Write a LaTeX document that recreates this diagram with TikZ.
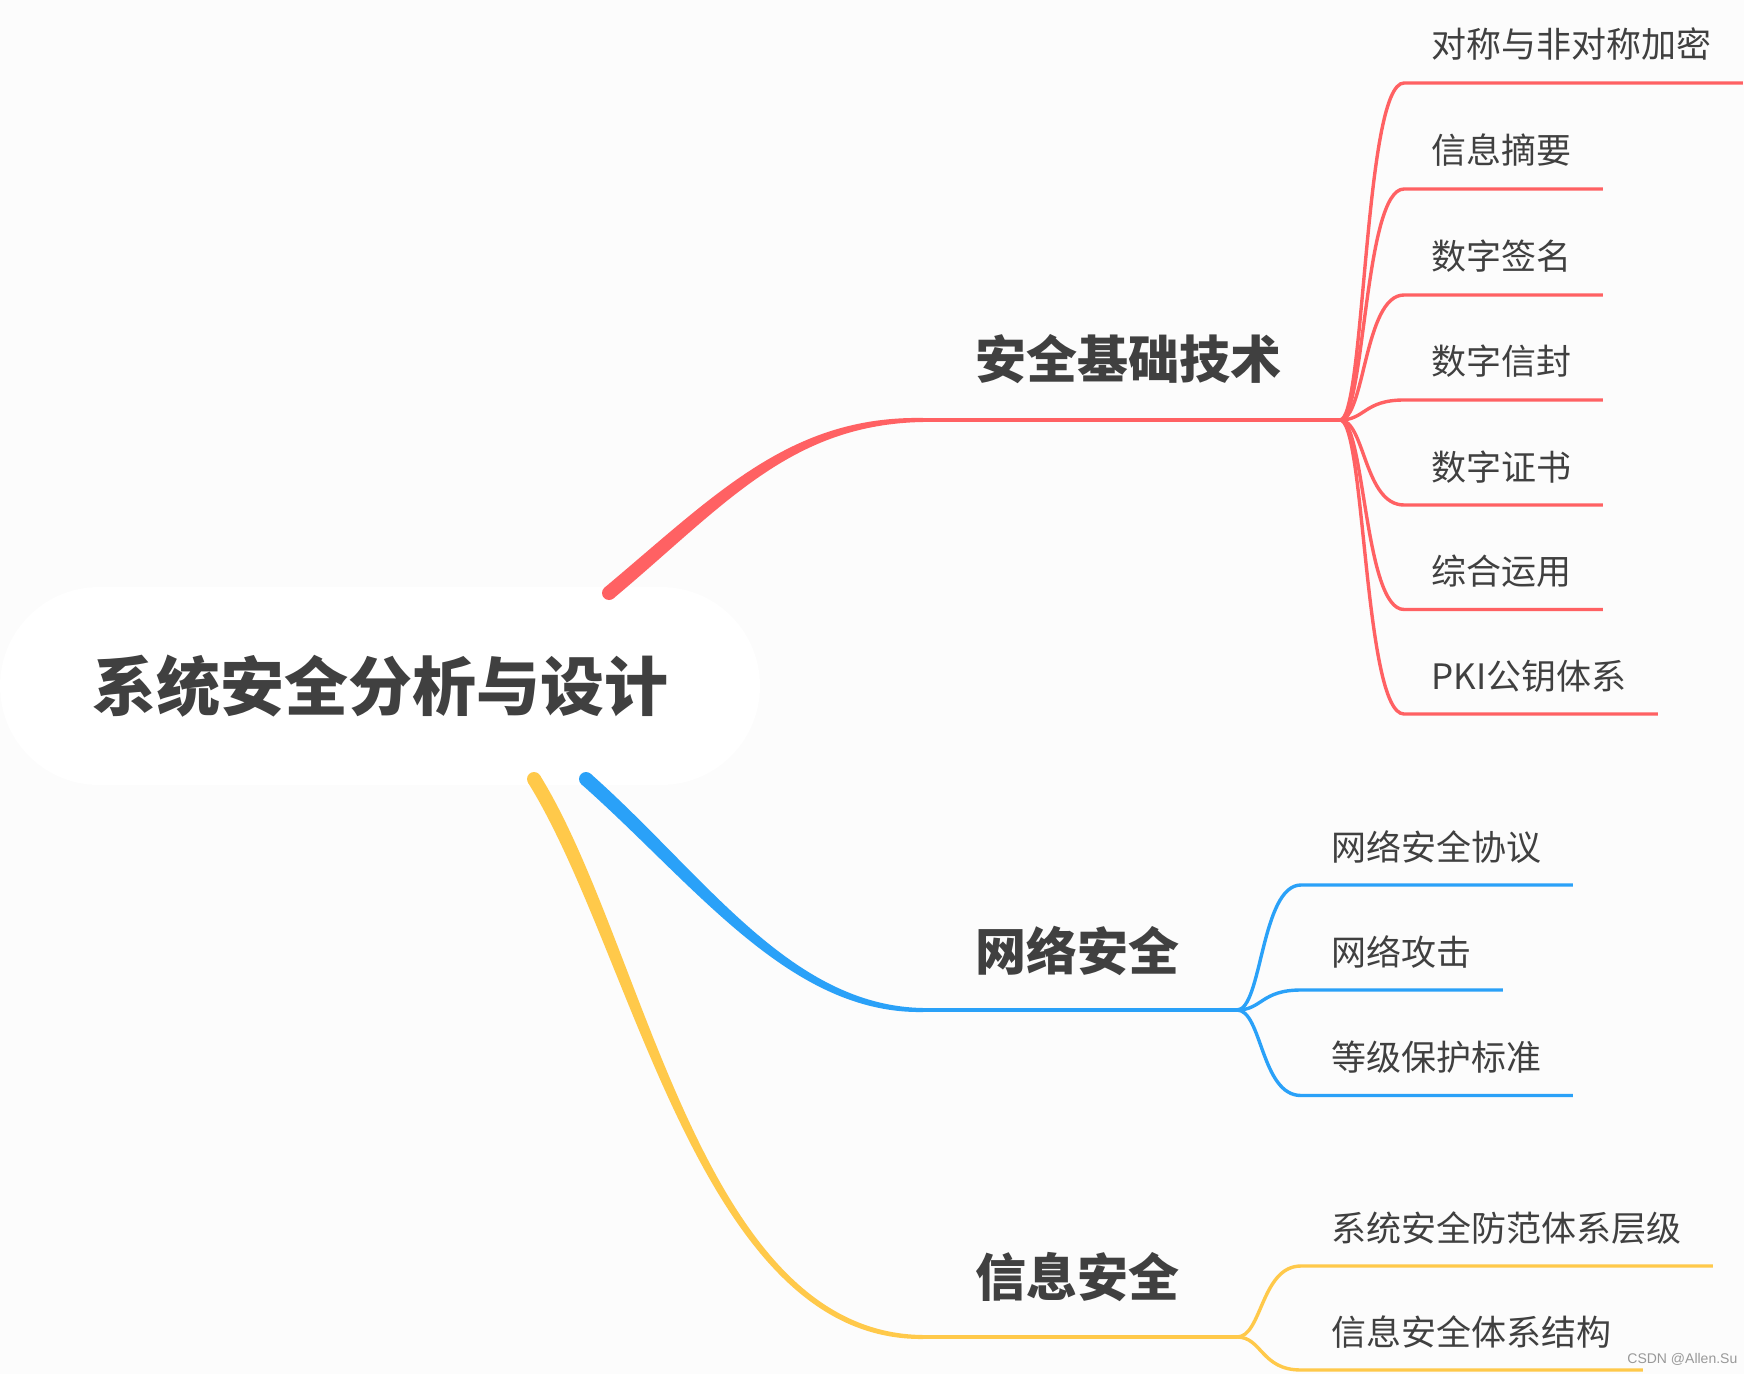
\documentclass[tikz,border=0pt]{standalone}
\usepackage{fontspec}
\setmainfont{Noto Sans CJK SC}
\newfontfamily\wmfont{Liberation Sans}
\usetikzlibrary{calc}
\definecolor{bgcol}{HTML}{FCFCFC}
\definecolor{txtcol}{HTML}{404040}
\definecolor{redbr}{HTML}{FF6163}
\definecolor{bluebr}{HTML}{2AA1F8}
\definecolor{yelbr}{HTML}{FFC94A}
\tikzset{
  rootbox/.style={rounded corners=49.5pt,fill=white,minimum width=380pt,minimum height=99pt,inner sep=0pt,font=\fontsize{32}{32}\selectfont\bfseries,text=txtcol},
  topic/.style={anchor=base west,inner sep=0pt,font=\fontsize{25.5}{25.5}\selectfont\bfseries,text=txtcol},
  leaf/.style={anchor=base west,inner sep=0pt,font=\fontsize{17.5}{17.5}\selectfont,text=txtcol},
  stem/.style={line width=2pt},
  twig/.style={line width=1.7pt},
  markbox/.style={anchor=west,inner sep=0pt,font=\wmfont\fontsize{7}{7}\selectfont,text=black!40}
}
% tapered main branch: colour, start, control 1, control 2, end
\newcommand\mainbranch[5]{%
  \fill[#1] (#2) circle (3.5pt);
  \fill[#1] ($(#2)!3.5pt!90:(#3)$) .. controls ($(#3)!3.5pt!-90:(#2)$) and ($(#4)!2.2pt!90:(#5)$) .. ($(#5)!1pt!-90:(#4)$)
    -- ($(#5)!1pt!90:(#4)$) .. controls ($(#4)!2.2pt!-90:(#5)$) and ($(#3)!3.5pt!90:(#2)$) .. ($(#2)!3.5pt!-90:(#3)$) -- cycle;
}

\begin{document}
\begin{tikzpicture}[x=0.5pt,y=-0.5pt]

  \fill[bgcol] (0,0) rectangle (1744,1374);
  \useasboundingbox (0,0) rectangle (1744,1374);

  % --- root ---
  \node[rootbox] (root) at (380,686) {系统安全分析与设计};
  \coordinate (redout) at (609,593);
  \coordinate (blueout) at (586,779);
  \coordinate (yelout) at (534,779);

  % --- Branche 1 : 安全基础技术 ---
  \coordinate (redbend) at (923,420);
  \coordinate (redjoint) at (1340,420);
  \mainbranch{redbr}{redout}{720,500}{790,420}{redbend}
  \draw[stem,redbr] (redbend) -- (redjoint);
  \node[topic] (basic) at (975,379) {安全基础技术};

  \node[leaf] (r1) at (1431,58) {对称与非对称加密};
  \node[leaf] (r2) at (1431,164) {信息摘要};
  \node[leaf] (r3) at (1431,270) {数字签名};
  \node[leaf] (r4) at (1431,375) {数字信封};
  \node[leaf] (r5) at (1431,480) {数字证书};
  \node[leaf] (r6) at (1431,584.5) {综合运用};
  \node[leaf] (r7) at (1431,689) {PKI公钥体系};
  \coordinate (r1s) at (1404,83);
  \coordinate (r2s) at (1404,189);
  \coordinate (r3s) at (1404,295);
  \coordinate (r4s) at (1404,400);
  \coordinate (r5s) at (1404,505);
  \coordinate (r6s) at (1404,609.5);
  \coordinate (r7s) at (1404,714);
  \draw[twig,redbr] (redjoint) .. controls +(25,0) and +(-40,0) .. (r1s) -- ([xshift=15.5pt]r1s -| r1.east);
  \draw[twig,redbr] (redjoint) .. controls +(25,0) and +(-40,0) .. (r2s) -- ([xshift=15.5pt]r2s -| r2.east);
  \draw[twig,redbr] (redjoint) .. controls +(25,0) and +(-40,0) .. (r3s) -- ([xshift=15.5pt]r3s -| r3.east);
  \draw[twig,redbr] (redjoint) .. controls +(25,0) and +(-40,0) .. (r4s) -- ([xshift=15.5pt]r4s -| r4.east);
  \draw[twig,redbr] (redjoint) .. controls +(25,0) and +(-40,0) .. (r5s) -- ([xshift=15.5pt]r5s -| r5.east);
  \draw[twig,redbr] (redjoint) .. controls +(25,0) and +(-40,0) .. (r6s) -- ([xshift=15.5pt]r6s -| r6.east);
  \draw[twig,redbr] (redjoint) .. controls +(25,0) and +(-40,0) .. (r7s) -- ([xshift=15.5pt]r7s -| r7.east);

  % --- Branche 2 : 网络安全 ---
  \coordinate (bluebend) at (923,1010);
  \coordinate (bluejoint) at (1237,1010);
  \mainbranch{bluebr}{blueout}{700,880}{790,1010}{bluebend}
  \draw[stem,bluebr] (bluebend) -- (bluejoint);
  \node[topic] (net) at (975,970) {网络安全};

  \node[leaf] (b1) at (1331,860) {网络安全协议};
  \node[leaf] (b2) at (1331,965) {网络攻击};
  \node[leaf] (b3) at (1331,1070) {等级保护标准};
  \coordinate (b1s) at (1301,885);
  \coordinate (b2s) at (1301,990);
  \coordinate (b3s) at (1301,1095.5);
  \draw[twig,bluebr] (bluejoint) .. controls +(25,0) and +(-40,0) .. (b1s) -- ([xshift=15.5pt]b1s -| b1.east);
  \draw[twig,bluebr] (bluejoint) .. controls +(25,0) and +(-40,0) .. (b2s) -- ([xshift=15.5pt]b2s -| b2.east);
  \draw[twig,bluebr] (bluejoint) .. controls +(25,0) and +(-40,0) .. (b3s) -- ([xshift=15.5pt]b3s -| b3.east);

  % --- Branche 3 : 信息安全 ---
  \coordinate (yelbend) at (923,1337);
  \coordinate (yeljoint) at (1237,1337);
  \mainbranch{yelbr}{yelout}{640,950}{700,1337}{yelbend}
  \draw[stem,yelbr] (yelbend) -- (yeljoint);
  \node[topic] (info) at (975,1296) {信息安全};

  \node[leaf] (y1) at (1331,1241) {系统安全防范体系层级};
  \node[leaf] (y2) at (1331,1345) {信息安全体系结构};
  \coordinate (y1s) at (1301,1266);
  \coordinate (y2s) at (1301,1370);
  \draw[twig,yelbr] (yeljoint) .. controls +(25,0) and +(-40,0) .. (y1s) -- ([xshift=15.5pt]y1s -| y1.east);
  \draw[twig,yelbr] (yeljoint) .. controls +(25,0) and +(-40,0) .. (y2s) -- ([xshift=15.5pt]y2s -| y2.east);

  \node[markbox] (mark) at (1627,1359) {CSDN @Allen.Su};

\end{tikzpicture}
\end{document}
